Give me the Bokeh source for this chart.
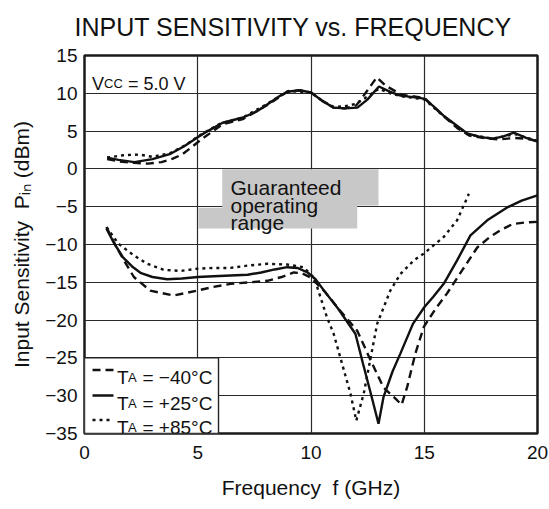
from bokeh.plotting import figure
from bokeh.models import Label, FixedTicker, Range1d
from bokeh.embed import file_html
from bokeh.resources import INLINE

FONT = "Liberation Sans"

# ---------------- data ----------------
x_ticks = [0, 5, 10, 15, 20]
y_ticks = [-35, -30, -25, -20, -15, -10, -5, 0, 5, 10, 15]

# upper group (maximum input)
f_hi_m40 = [1, 1.5, 2.2, 2.8, 3.4, 3.9, 4.3, 4.7, 5.2, 6.1, 7, 8.1, 8.95, 9.5, 10, 10.5, 11, 11.5, 12, 12.4, 12.9, 13.3, 14, 15, 15.85, 16.5, 17, 17.6, 18.3, 19, 19.5, 20]
p_hi_m40 = [1.3, 1.0, 0.8, 0.7, 0.9, 1.35, 1.9, 2.8, 4.0, 5.9, 6.6, 8.5, 10.2, 10.4, 10.1, 9.0, 8.1, 8.0, 8.4, 10.0, 12.1, 11.0, 9.8, 9.4, 7.0, 5.3, 4.4, 4.1, 3.9, 4.1, 4.0, 3.7]

f_hi_p25 = [1, 1.5, 2.2, 3, 3.8, 4.4, 5, 5.5, 6.1, 7, 7.6, 8.1, 8.6, 8.95, 9.5, 10, 10.5, 11, 11.5, 12.05, 12.5, 13, 13.5, 13.95, 14.5, 15, 15.4, 15.85, 16.4, 16.9, 17.5, 18.05, 18.5, 18.95, 19.5, 20]
p_hi_p25 = [1.5, 1.2, 0.9, 1.3, 2.0, 3.0, 4.2, 5.1, 6.1, 6.8, 7.6, 8.6, 9.6, 10.2, 10.4, 10.1, 9.0, 8.1, 8.0, 8.1, 9.2, 10.9, 10.2, 9.7, 9.5, 9.3, 8.3, 7.05, 5.8, 4.7, 4.2, 4.0, 4.3, 4.8, 4.1, 3.6]

f_hi_p85 = [1, 1.7, 2.4, 3, 3.8, 4.5, 5, 6, 7, 8, 9, 10, 10.5, 11, 11.5, 12, 12.5, 13, 13.5, 14, 15, 15.85, 16.9, 18, 19, 20]
p_hi_p85 = [1.5, 1.8, 1.9, 1.6, 2.1, 3.2, 4.3, 6.0, 6.8, 8.5, 10.3, 10.1, 9.0, 8.2, 8.3, 8.6, 9.6, 10.6, 10.0, 9.6, 9.2, 7.0, 4.6, 4.0, 4.6, 3.7]

# lower group (minimum input)
f_lo_m40 = [0.97, 1.35, 1.74, 2.18, 2.9, 3.94, 4.97, 5.7, 6.45, 7.3, 8.07, 8.7, 9.24, 9.6, 10.0, 10.6, 11.16, 12.04, 12.63, 13.2, 13.8, 14.0, 14.25, 14.6, 14.98, 15.5, 16.0, 16.7, 17.34, 17.9, 18.37, 18.9, 19.4, 20]
p_lo_m40 = [-7.7, -10.0, -12.1, -14.3, -16.1, -16.75, -16.1, -15.6, -15.2, -15.0, -14.8, -14.3, -13.7, -13.8, -14.4, -16.2, -18.3, -21.4, -25.3, -28.9, -30.6, -31.2, -28.8, -24.5, -20.9, -18.5, -16.5, -13.3, -10.4, -9.0, -8.1, -7.3, -7.1, -7.0]

f_lo_p25 = [0.97, 1.3, 1.7, 2.1, 2.5, 3.0, 3.65, 4.3, 5, 5.7, 6.45, 7.2, 7.8, 8.4, 8.95, 9.4, 9.85, 10.2, 10.6, 11.2, 11.96, 12.3, 12.7, 12.98, 13.2, 13.6, 13.95, 14.5, 15, 15.4, 15.86, 16.45, 17.04, 17.78, 18.66, 19.3, 20]
p_lo_p25 = [-7.9, -9.8, -11.7, -12.9, -13.8, -14.3, -14.6, -14.5, -14.3, -14.2, -14.1, -14.0, -13.7, -13.3, -13.0, -13.1, -13.7, -14.6, -16.2, -18.5, -21.8, -25.8, -30.4, -33.7, -30.2, -26.8, -24.4, -20.5, -18.3, -16.9, -15.2, -12.1, -8.8, -6.8, -5.1, -4.2, -3.5]

f_lo_p85 = [0.97, 1.5, 2.18, 2.77, 3.5, 4.24, 4.97, 5.7, 6.45, 7.18, 8.07, 8.95, 9.67, 10.1, 10.27, 10.7, 11.0, 11.74, 12.0, 12.33, 12.92, 13.5, 13.95, 14.54, 14.98, 15.86, 16.45, 16.97]
p_lo_p85 = [-7.7, -9.9, -11.45, -12.55, -13.35, -13.5, -13.2, -13.1, -13.1, -12.8, -12.55, -12.65, -13.0, -14.3, -15.6, -19.6, -21.8, -29.7, -33.3, -29.7, -20.5, -16.1, -13.9, -12.1, -11.2, -9.0, -6.8, -3.3]

# shaded "guaranteed operating range" outline
range_f = [6.08, 12.98, 12.98, 12.04, 12.04, 5.03, 5.03, 6.08]
range_p = [-0.05, -0.05, -4.85, -4.85, -7.9, -7.9, -5.15, -5.15]

legend_labels = ["\u2212" + "40\u00b0C", "+25\u00b0C", "+85\u00b0C"]
legend_dash = ["8 5", "solid", "3 4"]

# ---------------- page geometry helpers (canvas pixels -> data) ----------------
FX0, FX1, FY0, FY1 = 84.0, 537.0, 55.0, 433.0
W, H = 548, 508


def X(px):
    return (px - FX0) / (FX1 - FX0) * 20.0


def Y(py):
    return 15.0 - (py - FY0) / (FY1 - FY0) * 50.0


p = figure(width=W, height=H, x_range=Range1d(0, 20), y_range=Range1d(-35, 15),
           output_backend="svg", toolbar_location=None,
           min_border_left=int(FX0), min_border_right=int(W - FX1),
           min_border_top=int(FY0), min_border_bottom=int(H - FY1))
p.title.text = "INPUT SENSITIVITY vs. FREQUENCY"
p.title.text_font = FONT
p.title.text_font_size = "25px"
p.title.text_font_style = "normal"
p.title.text_color = "#111111"
p.title.align = "left"
p.title.offset = -10
p.title.vertical_align = "top"
p.title.standoff = 25
p.background_fill_color = "white"
p.border_fill_color = "white"
p.outline_line_color = "#1a1a1a"
p.outline_line_width = 2.5

for ax in (p.xaxis[0], p.yaxis[0]):
    ax.axis_line_color = None
    ax.major_tick_line_color = None
    ax.minor_tick_line_color = None
    ax.major_tick_out = 0
    ax.major_tick_in = 0
    ax.minor_tick_out = 0
    ax.minor_tick_in = 0
    ax.major_label_text_font = FONT
    ax.major_label_text_font_size = "19px"
    ax.major_label_text_color = "#111111"
    ax.axis_label_text_font = FONT
    ax.axis_label_text_font_size = "21px"
    ax.axis_label_text_font_style = "normal"
    ax.axis_label_text_color = "#111111"

p.xaxis.ticker = FixedTicker(ticks=x_ticks)
p.yaxis.ticker = FixedTicker(ticks=y_ticks)
p.yaxis.major_label_overrides = {t: ("\u2212" + str(-t) if t < 0 else str(t)) for t in y_ticks}
p.xaxis.major_label_standoff = 12
p.yaxis.major_label_standoff = 7
p.xaxis.axis_label = "Frequency\u00a0 f (GHz)"
p.xaxis.axis_label_standoff = 14
p.yaxis.axis_label = "Input Sensitivity\u00a0 P\u1d62\u2099 (dBm)"
p.yaxis.axis_label_standoff = 9

p.xgrid.ticker = FixedTicker(ticks=x_ticks[1:-1])
p.ygrid.ticker = FixedTicker(ticks=y_ticks[1:-1])
for g in (p.xgrid[0], p.ygrid[0]):
    g.grid_line_color = "#2a2a2a"
    g.grid_line_width = 1.2

# shaded range
p.patch(range_f, range_p, fill_color="#c8c8c8", line_color=None)

# curves
col = "#111111"
lw = 2.4
p.line(f_hi_p85, p_hi_p85, line_color=col, line_width=lw, line_dash="3 4")
p.line(f_hi_m40, p_hi_m40, line_color=col, line_width=lw, line_dash="8 5")
p.line(f_hi_p25, p_hi_p25, line_color=col, line_width=lw)
p.line(f_lo_p85, p_lo_p85, line_color=col, line_width=lw, line_dash="3 4")
p.line(f_lo_m40, p_lo_m40, line_color=col, line_width=lw, line_dash="8 5")
p.line(f_lo_p25, p_lo_p25, line_color=col, line_width=lw)

# legend box
p.quad(left=[0], right=[X(218)], top=[-25], bottom=[-35], fill_color="white",
       line_color="#222222", line_width=1.4)
row_line_py = [369.5, 395.0, 419.5]
row_base_py = [376.5, 402.5, 426.5]
for lab, dash, lpy, bpy in zip(legend_labels, legend_dash, row_line_py, row_base_py):
    p.line([X(92), X(113)], [Y(lpy), Y(lpy)], line_color=col, line_width=2.4, line_dash=dash)
    p.add_layout(Label(x=X(116.5), y=Y(bpy), text="T", text_font=FONT, text_font_size="19px",
                       text_baseline="alphabetic", text_align="left", text_color=col))
    p.add_layout(Label(x=X(127.5), y=Y(bpy), text="A", text_font=FONT, text_font_size="13px",
                       text_baseline="alphabetic", text_align="left", text_color=col))
    p.add_layout(Label(x=X(142), y=Y(bpy), text="= " + lab, text_font=FONT, text_font_size="19px",
                       text_baseline="alphabetic", text_align="left", text_color=col))

# Vcc label
p.add_layout(Label(x=X(91.5), y=Y(83.3), text="V", text_font=FONT, text_font_size="18px",
                   text_baseline="alphabetic", text_align="left", text_color=col))
p.add_layout(Label(x=X(103.5), y=Y(83.3), text="CC", text_font=FONT, text_font_size="13px",
                   text_baseline="alphabetic", text_align="left", text_color=col))
p.add_layout(Label(x=X(127.5), y=Y(83.3), text="= 5.0 V", text_font=FONT, text_font_size="18px",
                   text_baseline="alphabetic", text_align="left", text_color=col))

# guaranteed range text
for txt, bpy in zip(["Guaranteed", "operating", "range"], [187.0, 204.5, 221.5]):
    p.add_layout(Label(x=X(230), y=Y(bpy), text=txt, text_font=FONT, text_font_size="21px",
                       text_baseline="alphabetic", text_align="left", text_color=col))

open("out.html", "w").write(file_html(p, INLINE))
